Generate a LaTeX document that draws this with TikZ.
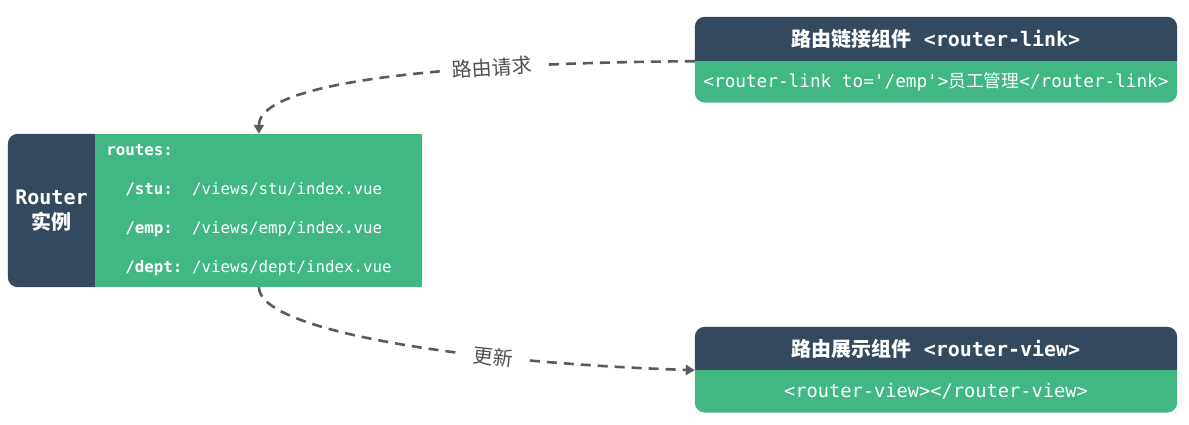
\documentclass[tikz,border=0pt]{standalone}
\usepackage{fontspec}
\setmonofont{DejaVu Sans Mono}
\newfontfamily\cjk{Noto Sans CJK SC}
\usepackage{tikz}
\usetikzlibrary{positioning,arrows.meta,backgrounds}
\definecolor{vuedark}{RGB}{53,73,94}
\definecolor{vuegreen}{RGB}{65,184,131}
\definecolor{flowgray}{RGB}{87,91,93}
\definecolor{labelgray}{RGB}{80,80,80}

\begin{document}
\begin{tikzpicture}[x=1pt, y=-1pt,
  head/.style={minimum width=482pt, minimum height=44pt, inner sep=0pt, text=white,
    font=\fontsize{20}{24}\selectfont\ttfamily\bfseries},
  body/.style={minimum width=482pt, minimum height=41pt, inner sep=0pt, text=white,
    font=\fontsize{17.7}{21}\selectfont\ttfamily},
  flow/.style={draw=flowgray, line width=2.6pt, dash pattern=on 10pt off 7pt,
    -{Triangle[length=9pt,width=10pt]}},
  lbl/.style={fill=white, text=labelgray, inner xsep=12pt, inner ysep=2pt,
    font=\cjk\fontsize{20}{24}\selectfont}]
  \useasboundingbox (0,0) rectangle (1189,424);
  % Router instance (left block)
  \node[minimum width=87pt, minimum height=153pt, inner sep=0pt, align=center, text=white,
    font=\fontsize{20}{25}\selectfont\ttfamily\bfseries] (inst) at (51.5,210.5)
    {Router\\{\cjk 实例}};
  \node[right=0pt of inst, fill=vuegreen, text=white, minimum height=153pt,
    text width=305pt, inner xsep=11pt, align=left,
    font=\fontsize{15.8}{39}\selectfont\ttfamily] (routes)
    {{\bfseries routes:}\\
     \phantom{xx}{\bfseries /stu:}\phantom{xx}/views/stu/index.vue\\
     \phantom{xx}{\bfseries /emp:}\phantom{xx}/views/emp/index.vue\\
     \phantom{xx}{\bfseries /dept:}\phantom{x}/views/dept/index.vue};
  % router-link component (top right)
  \node[head] (linkhead) at (936,39) {{\cjk 路由链接组件} <router-link>};
  \node[body, below=0pt of linkhead] (linkbody)
    {<router-link to='/emp'>{\cjk 员工管理}</router-link>};
  % router-view component (bottom right)
  \node[head, minimum height=43pt] (viewhead) at (936,348.5) {{\cjk 路由展示组件} <router-view>};
  \node[body, below=0pt of viewhead, minimum height=42pt, font=\fontsize{18.7}{22}\selectfont\ttfamily] (viewbody)
    {<router-view></router-view>};
  % backgrounds
  \begin{scope}[on background layer, rounded corners=10pt]
    \fill[vuedark] (inst.north east) -- (inst.north west) -- (inst.south west) -- (inst.south east);
    \fill[vuedark] (linkhead.south west) -- (linkhead.north west) -- (linkhead.north east) -- (linkhead.south east);
    \fill[vuegreen] (linkbody.north west) -- (linkbody.south west) -- (linkbody.south east) -- (linkbody.north east);
    \fill[vuedark] (viewhead.south west) -- (viewhead.north west) -- (viewhead.north east) -- (viewhead.south east);
    \fill[vuegreen] (viewbody.north west) -- (viewbody.south west) -- (viewbody.south east) -- (viewbody.north east);
  \end{scope}
  % request: link -> router
  \draw[flow] (linkhead.south west) .. controls +(-275,2) and +(0,-49) .. (routes.north)
    node[lbl, pos=0.28, sloped] (req) {路由请求};
  % update: router -> view
  \draw[flow] (routes.south) .. controls +(0,42) and +(-243,-8) .. (viewhead.south west)
    node[lbl, pos=0.7, sloped] (upd) {更新};
\end{tikzpicture}
\end{document}
